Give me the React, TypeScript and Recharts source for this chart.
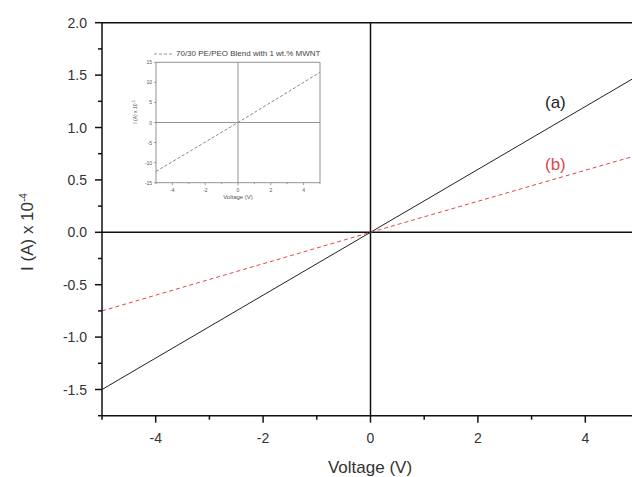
import React from "react"
import {
  LineChart,
  Line,
  XAxis,
  YAxis,
  ReferenceLine,
} from "recharts"

// main plot
const volts = [-5, 0, 5]
const seriesA = [-1.5, 0, 1.5]
const seriesB = [-0.75, 0, 0.74]
const xTicks = [-5, -4, -3, -2, -1, 0, 1, 2, 3, 4, 5]
const yTicks = [-1.75, -1.5, -1.25, -1, -0.75, -0.5, -0.25, 0, 0.25, 0.5, 0.75, 1, 1.25, 1.5, 1.75, 2]

// inset plot
const insetVolts = [-5, 0, 5]
const insetCurrent = [-12.2, 0, 12.5]
const insetXTicks = [-5, -4, -3, -2, -1, 0, 1, 2, 3, 4, 5]
const insetYTicks = [-15, -10, -5, 0, 5, 10, 15]

const mainData = volts.map((v, i) => ({ v, a: seriesA[i], b: seriesB[i] }))
const insetData = insetVolts.map((v, i) => ({ v, i: insetCurrent[i] }))

const FONT = "'Liberation Sans', Arial, sans-serif"

const MainYTick = ({ x, y, payload }: any) => {
  const val = payload.value as number
  const major = Math.abs(val * 2 - Math.round(val * 2)) < 1e-6
  const len = major ? 7 : 4
  return (
    <g>
      <line x1={x - len} x2={x} y1={y} y2={y} stroke="#111" strokeWidth={1.5} />
      {major && (
        <text x={x - 15} y={y} textAnchor="end" dominantBaseline="central" fontSize={14} fill="#333" fontFamily={FONT}>
          {val.toFixed(1)}
        </text>
      )}
    </g>
  )
}

const MainXTick = ({ x, y, payload }: any) => {
  const val = payload.value as number
  const major = val % 2 === 0
  const len = major ? 7 : 4
  return (
    <g>
      <line x1={x} x2={x} y1={y} y2={y + len} stroke="#111" strokeWidth={1.5} />
      {major && (
        <text x={x} y={y + 22} textAnchor="middle" dominantBaseline="central" fontSize={14} fill="#333" fontFamily={FONT}>
          {val}
        </text>
      )}
    </g>
  )
}

const InsetYTick = ({ x, y, payload }: any) => (
  <g>
    <line x1={x - 2} x2={x} y1={y} y2={y} stroke="#777" strokeWidth={0.7} />
    <text x={x - 4} y={y} textAnchor="end" dominantBaseline="central" fontSize={5} fill="#555" fontFamily={FONT}>
      {payload.value}
    </text>
  </g>
)

const InsetXTick = ({ x, y, payload }: any) => {
  const val = payload.value as number
  const major = val % 2 === 0
  return (
    <g>
      <line x1={x} x2={x} y1={y} y2={y + (major ? 2.5 : 1.5)} stroke="#777" strokeWidth={0.7} />
      {major && (
        <text x={x} y={y + 7} textAnchor="middle" dominantBaseline="central" fontSize={5} fill="#555" fontFamily={FONT}>
          {val}
        </text>
      )}
    </g>
  )
}

export default function App() {
  return (
    <div
      style={{
        position: "absolute",
        left: 0,
        top: 0,
        width: 632,
        height: 477,
        overflow: "hidden",
        background: "#fff",
        fontFamily: FONT,
      }}
    >
      <LineChart width={639} height={477} data={mainData} margin={{ top: 22.7, right: 0, left: 42, bottom: 31.3 }}>
        <XAxis
          dataKey="v"
          type="number"
          domain={[-5, 5]}
          ticks={xTicks}
          tick={<MainXTick />}
          tickSize={0}
          tickMargin={0}
          tickLine={false}
          axisLine={{ stroke: "#111", strokeWidth: 1.5 }}
          height={30}
          interval={0}
        />
        <YAxis
          type="number"
          domain={[-1.75, 2]}
          ticks={yTicks}
          tick={<MainYTick />}
          tickSize={0}
          tickMargin={0}
          tickLine={false}
          axisLine={{ stroke: "#111", strokeWidth: 1.5 }}
          width={60}
          interval={0}
        />
        <ReferenceLine y={2} stroke="#111" strokeWidth={1.5} />
        <ReferenceLine y={0} stroke="#111" strokeWidth={1.5} />
        <ReferenceLine x={0} stroke="#111" strokeWidth={1.5} />
        <Line dataKey="a" stroke="#222" strokeWidth={1} dot={false} isAnimationActive={false} />
        <Line dataKey="b" stroke="#e0474c" strokeWidth={1} strokeDasharray="4 3" dot={false} isAnimationActive={false} />
      </LineChart>

      {/* series labels */}
      <div style={{ position: "absolute", left: 545, top: 93, fontSize: 17, color: "#222" }}>(a)</div>
      <div style={{ position: "absolute", left: 545, top: 155, fontSize: 17, color: "#e0474c" }}>(b)</div>

      {/* axis titles */}
      <div style={{ position: "absolute", left: 370, top: 468, transform: "translate(-50%, -50%)", fontSize: 17, color: "#333", whiteSpace: "nowrap" }}>
        Voltage (V)
      </div>
      <div
        style={{
          position: "absolute",
          left: 28,
          top: 232,
          transform: "translate(-50%, -50%) rotate(-90deg)",
          fontSize: 17,
          color: "#333",
          whiteSpace: "nowrap",
        }}
      >
        I (A) x 10<sup style={{ fontSize: 10 }}>-4</sup>
      </div>

      {/* inset */}
      <div style={{ position: "absolute", left: 130, top: 40, width: 200, height: 170 }}>
        <LineChart width={200} height={170} data={insetData} margin={{ top: 22.3, right: 10, left: 10, bottom: 15.3 }}>
          <XAxis
            dataKey="v"
            type="number"
            domain={[-5, 5]}
            ticks={insetXTicks}
            tick={<InsetXTick />}
            tickSize={0}
            tickMargin={0}
            tickLine={false}
            axisLine={{ stroke: "#777", strokeWidth: 0.8 }}
            height={12}
            interval={0}
          />
          <YAxis
            type="number"
            domain={[-15, 15]}
            ticks={insetYTicks}
            tick={<InsetYTick />}
            tickSize={0}
            tickMargin={0}
            tickLine={false}
            axisLine={{ stroke: "#777", strokeWidth: 0.8 }}
            width={16}
            interval={0}
          />
          <ReferenceLine y={15} stroke="#777" strokeWidth={0.8} />
          <ReferenceLine x={5} stroke="#777" strokeWidth={0.8} />
          <ReferenceLine y={0} stroke="#777" strokeWidth={0.8} />
          <ReferenceLine x={0} stroke="#777" strokeWidth={0.8} />
          <Line dataKey="i" stroke="#888" strokeWidth={1} strokeDasharray="3 2" dot={false} isAnimationActive={false} />
        </LineChart>
        <div style={{ position: "absolute", left: 24, top: 9, display: "flex", alignItems: "center", whiteSpace: "nowrap" }}>
          <svg width={20} height={4}>
            <line x1={0} x2={20} y1={2} y2={2} stroke="#777" strokeWidth={0.8} strokeDasharray="3 2" />
          </svg>
          <span style={{ fontSize: 8, color: "#444", marginLeft: 2 }}>70/30 PE/PEO Blend with 1 wt.% MWNT</span>
        </div>
        <div style={{ position: "absolute", left: 108, top: 157, transform: "translate(-50%, -50%)", fontSize: 6, color: "#555", whiteSpace: "nowrap" }}>
          Voltage (V)
        </div>
        <div
          style={{
            position: "absolute",
            left: 5,
            top: 72,
            transform: "translate(-50%, -50%) rotate(-90deg)",
            fontSize: 5,
            color: "#555",
            whiteSpace: "nowrap",
          }}
        >
          I (A) x 10<sup style={{ fontSize: 3.5 }}>-5</sup>
        </div>
      </div>
    </div>
  )
}
